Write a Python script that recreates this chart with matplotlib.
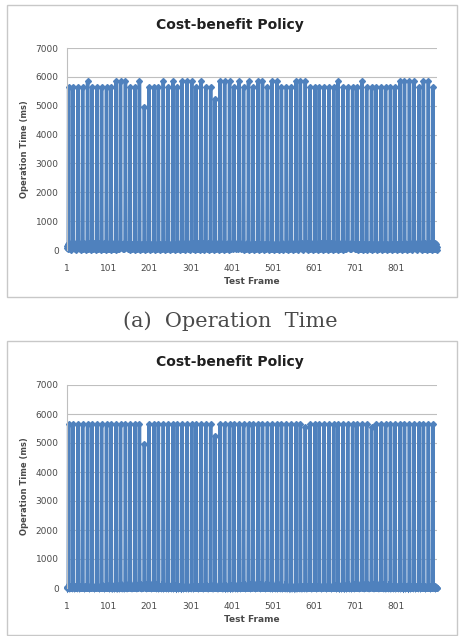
import matplotlib as mpl
mpl.use('Agg')
import matplotlib.pyplot as plt
from matplotlib.patches import Rectangle

# frame numbers where a full recompute happens (tall spikes)
spike_frames = [5, 16, 28, 39, 51, 62, 74, 85, 97, 108, 120, 131, 143, 154, 166,
                177, 189, 200, 212, 223, 235, 246, 258, 269, 281, 292, 304, 315,
                327, 338, 350, 361, 373, 384, 396, 407, 419, 430, 442, 453, 465,
                476, 488, 499, 511, 522, 534, 545, 557, 568, 580, 591, 603, 614,
                626, 637, 649, 660, 672, 683, 695, 706, 718, 729, 741, 752, 764,
                775, 787, 798, 810, 821, 833, 844, 856, 867, 879, 890]

# spikes that reach ~5850 ms in (a), the rest sit at ~5650 ms
high_a = [51, 120, 131, 143, 177, 235, 258, 281, 292, 304, 327, 373, 384, 396,
          419, 442, 465, 476, 499, 511, 557, 568, 580, 660, 718, 810, 821, 833,
          844, 867, 879]
dips_a = {189: 4950, 361: 5250}
dips_b = {189: 4950, 361: 5250, 580: 5550, 741: 5550}

# small operation times between the spikes
low_a = [150, 60, 220, 20, 180, 90, 250, 40, 130, 200, 10, 110]
low_b = [30, 0, 50, 10, 40, 0, 20, 60, 0, 30, 10, 0]

n_frames = 900
frames = list(range(1, n_frames + 1))

time_a = [low_a[i % len(low_a)] for i in range(n_frames)]
time_b = [low_b[i % len(low_b)] for i in range(n_frames)]
for f in spike_frames:
    time_a[f - 1] = 5850 if f in high_a else dips_a.get(f, 5650)
    time_b[f - 1] = dips_b.get(f, 5650)

W, H = 466, 636
fig = plt.figure(figsize=(W / 100, H / 100), dpi=100)
fig.patch.set_facecolor('white')

blue = '#4F81BD'
grid = '#BFBFBF'
txt = '#4A4A4A'


def box(x0, y0, x1, y1):
    fig.patches.append(Rectangle((x0 / W, 1 - y1 / H), (x1 - x0) / W, (y1 - y0) / H,
                                 transform=fig.transFigure, fill=False,
                                 edgecolor='#C8C8C8', lw=1.0))


def panel(top, bottom, data, title_y):
    ax = fig.add_axes([67 / W, 1 - bottom / H, 370 / W, (bottom - top) / H])
    ax.plot(frames, data, color=blue, lw=2.5, marker='D', ms=3.0,
            mec=blue, mfc=blue, clip_on=False, solid_joinstyle='miter')
    ax.set_xlim(1, n_frames)
    ax.set_ylim(0, 7000)
    ax.set_yticks(range(0, 7001, 1000))
    ax.set_xticks(range(1, 802, 100))
    ax.grid(axis='y', color=grid, lw=0.8)
    ax.set_axisbelow(True)
    for s in ['top', 'right', 'bottom']:
        ax.spines[s].set_visible(False)
    ax.spines['left'].set_color(grid)
    ax.tick_params(length=0, labelsize=6.5, colors=txt)
    ax.tick_params(axis='y', pad=6)
    ax.tick_params(axis='x', pad=10)
    ax.set_xlabel('Test Frame', fontsize=6.5, fontweight='bold', color=txt,
                  labelpad=3)
    fig.text(25 / W, 1 - (top + bottom) / 2 / H, 'Operation Time (ms)',
             rotation=90, fontsize=6, fontweight='bold', color=txt,
             ha='center', va='center')
    fig.text(230 / W, 1 - title_y / H, 'Cost-benefit Policy', fontsize=10,
             fontweight='bold', color='#202020', ha='center', va='center')
    return ax


box(7, 5, 457, 297)
box(7, 341, 457, 635)
panel(48, 250, time_a, 25)
panel(385, 588, time_b, 362)

fig.text(230 / W, 1 - 321 / H, '(a)  Operation  Time', fontsize=15,
         family='DejaVu Serif', color=txt, ha='center', va='center')

fig.savefig('out.png', dpi=100)
